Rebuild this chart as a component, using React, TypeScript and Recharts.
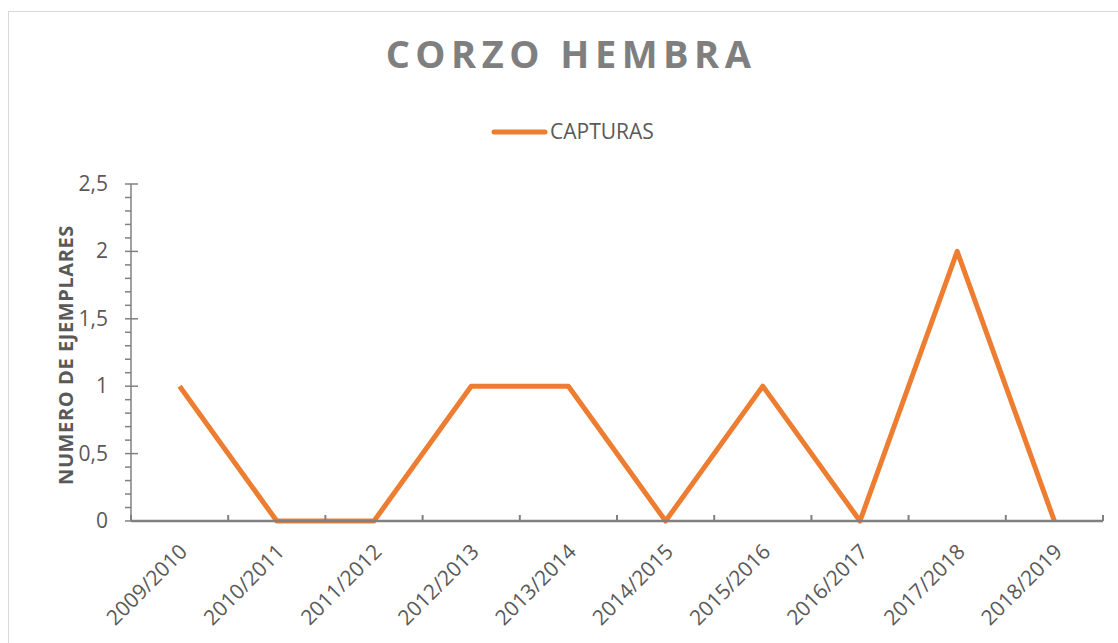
import { LineChart, Line, XAxis, YAxis } from "recharts";

const SEASONS = [
  "2009/2010",
  "2010/2011",
  "2011/2012",
  "2012/2013",
  "2013/2014",
  "2014/2015",
  "2015/2016",
  "2016/2017",
  "2017/2018",
  "2018/2019",
];
const CAPTURAS = [1, 0, 0, 1, 1, 0, 1, 0, 2, 0];
const Y_TICKS = [
  0, 0.1, 0.2, 0.3, 0.4, 0.5, 0.6, 0.7, 0.8, 0.9, 1, 1.1, 1.2, 1.3, 1.4, 1.5,
  1.6, 1.7, 1.8, 1.9, 2, 2.1, 2.2, 2.3, 2.4, 2.5,
];
const MAJOR_TICKS = [0, 0.5, 1, 1.5, 2, 2.5];

const chartData = SEASONS.map((s, i) => ({ season: s, capturas: CAPTURAS[i] }));

const W = 1109;
const H = 631;
const PLOT_LEFT = 122;
const PLOT_RIGHT = 1094;
const HALF_BAND = (PLOT_RIGHT - PLOT_LEFT) / SEASONS.length / 2;

const AXIS = "#808080";
const TEXT = "#595959";
const ORANGE = "#ED7D31";
const FONT = "'Open Sans', sans-serif";

function YTick(props: any) {
  const { x, y, payload } = props;
  const v = payload.value;
  const major = MAJOR_TICKS.some((m) => Math.abs(m - v) < 1e-6);
  if (!major) {
    return <line x1={x - 6} x2={x} y1={y} y2={y} stroke={AXIS} strokeWidth={1.5} />;
  }
  return (
    <g>
      <line x1={x - 6} x2={x + 7} y1={y} y2={y} stroke={AXIS} strokeWidth={1.5} />
      <text
        x={x - 23}
        y={y}
        dy={7}
        textAnchor="end"
        fontFamily={FONT}
        fontSize={21}
        fill={TEXT}
      >
        {String(v).replace(".", ",")}
      </text>
    </g>
  );
}

function XTick(props: any) {
  const { x, y, payload, index } = props;
  const last = index === SEASONS.length - 1;
  const tx = x + 9;
  const ty = y + 32;
  return (
    <g>
      <line x1={x - HALF_BAND} x2={x - HALF_BAND} y1={y} y2={y - 6} stroke={AXIS} strokeWidth={2} />
      {last && (
        <line x1={x + HALF_BAND} x2={x + HALF_BAND} y1={y} y2={y - 6} stroke={AXIS} strokeWidth={2} />
      )}
      <text
        x={tx}
        y={ty}
        transform={`rotate(-45, ${tx}, ${ty})`}
        textAnchor="end"
        fontFamily={FONT}
        fontSize={21}
        fill={TEXT}
      >
        {payload.value}
      </text>
    </g>
  );
}

export default function App() {
  return (
    <div
      style={{
        position: "absolute",
        left: 8,
        top: 11,
        width: 1110,
        height: 632,
        borderLeft: "1px solid #d9d9d9",
        borderTop: "1px solid #d9d9d9",
        background: "#fff",
        overflow: "hidden",
      }}
    >
      <LineChart
        width={W}
        height={H}
        data={chartData}
        margin={{ top: 172, right: W - PLOT_RIGHT, bottom: 0, left: 0 }}
      >
        <XAxis
          dataKey="season"
          type="category"
          interval={0}
          padding={{ left: HALF_BAND, right: HALF_BAND }}
          height={H - 509}
          tickSize={0}
          tickMargin={0}
          tickLine={false}
          axisLine={{ stroke: AXIS, strokeWidth: 2.5 }}
          tick={<XTick />}
        />
        <YAxis
          domain={[0, 2.5]}
          ticks={Y_TICKS}
          interval={0}
          width={PLOT_LEFT}
          tickSize={0}
          tickMargin={0}
          tickLine={false}
          axisLine={{ stroke: AXIS, strokeWidth: 1.5 }}
          tick={<YTick />}
        />
        <Line
          dataKey="capturas"
          stroke={ORANGE}
          strokeWidth={5}
          dot={false}
          activeDot={false}
          strokeLinejoin="round"
          isAnimationActive={false}
        />
      </LineChart>
      <svg
        width={W}
        height={H}
        style={{ position: "absolute", left: 0, top: 0, pointerEvents: "none" }}
      >
        <text
          x={562}
          y={56}
          textAnchor="middle"
          fontFamily={FONT}
          fontWeight={700}
          fontSize={38}
          letterSpacing={5.5}
          fill="#7f7f7f"
        >
          CORZO HEMBRA
        </text>
        <line x1={485} x2={536} y1={120} y2={120} stroke={ORANGE} strokeWidth={5} strokeLinecap="round" />
        <text x={541} y={127} fontFamily={FONT} fontSize={21} fill={TEXT}>
          CAPTURAS
        </text>
        <text
          transform="translate(64,343) rotate(-90)"
          textAnchor="middle"
          fontFamily={FONT}
          fontWeight={700}
          fontSize={20}
          letterSpacing={0.6}
          fill={TEXT}
        >
          NUMERO DE EJEMPLARES
        </text>
      </svg>
    </div>
  );
}
